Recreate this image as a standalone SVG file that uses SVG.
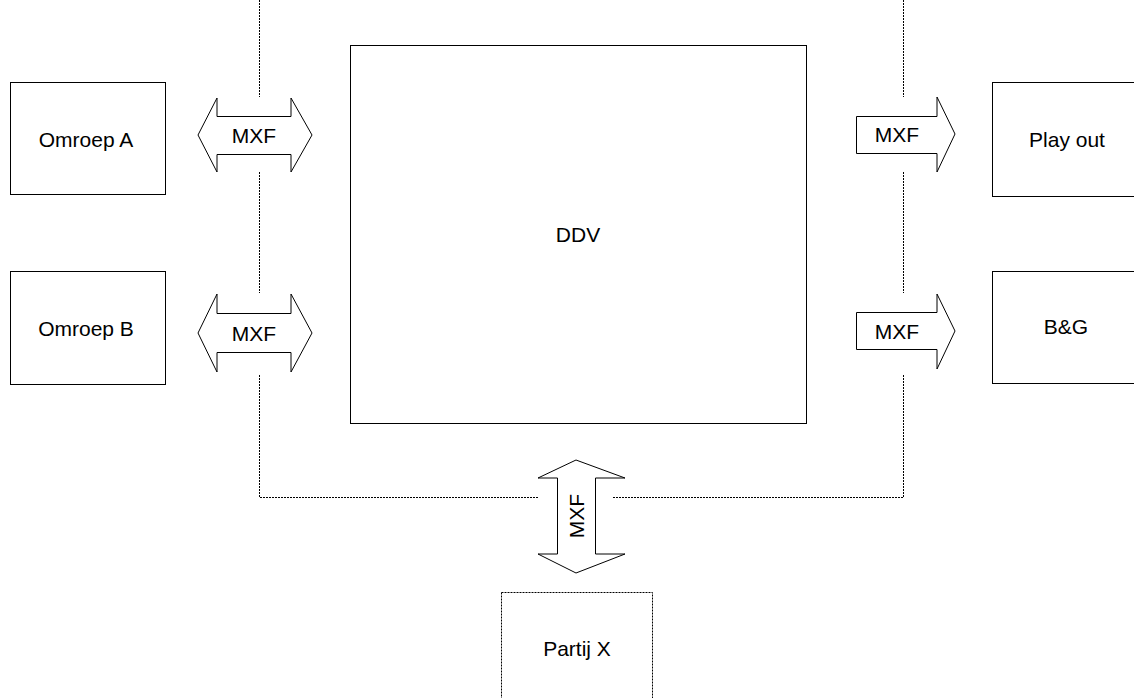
<svg xmlns="http://www.w3.org/2000/svg" width="1134" height="698" viewBox="0 0 1134 698">
  <style>
    .box { fill: #fff; stroke: #000; stroke-width: 1; }
    .dotbox { fill: #fff; stroke: #000; stroke-width: 1; stroke-dasharray: 2 1; }
    .arrow { fill: #fff; stroke: #000; stroke-width: 1; stroke-linejoin: miter; }
    .dot { fill: none; stroke: #000; stroke-width: 1; stroke-dasharray: 2 1; }
    text { font-family: "Liberation Sans", Arial, sans-serif; font-size: 21px; fill: #000; text-anchor: middle; }
  </style>
  <rect width="1134" height="698" fill="#fff"/>

  <!-- dotted link lines -->
  <g id="connectors">
    <path class="dot" d="M259.5 0 V97 M259.5 172 V293 M259.5 375 V497.5 H538"/>
    <path class="dot" d="M903.5 0 V97 M903.5 172 V293 M903.5 375 V497.5 H612"/>
  </g>

  <g id="omroep-a">
    <rect class="box" x="10.5" y="82.5" width="155" height="112"/>
    <text x="86" y="147">Omroep A</text>
  </g>
  <g id="omroep-b">
    <rect class="box" x="10.5" y="271.5" width="155" height="113"/>
    <text x="86" y="336">Omroep B</text>
  </g>
  <g id="ddv">
    <rect class="box" x="350.5" y="45.5" width="456" height="378"/>
    <text x="578" y="242">DDV</text>
  </g>
  <g id="play-out">
    <rect class="box" x="992.5" y="82.5" width="160" height="114"/>
    <text x="1067" y="147">Play out</text>
  </g>
  <g id="bg">
    <rect class="box" x="992.5" y="271.5" width="160" height="112"/>
    <text x="1066" y="334">B&amp;G</text>
  </g>
  <g id="partij-x">
    <rect class="dotbox" x="501.5" y="592.5" width="151" height="120"/>
    <text x="577" y="656">Partij X</text>
  </g>

  <!-- MXF exchange arrows -->
  <g id="mxf-a">
    <path class="arrow" d="M198 135 L217 98 V116.5 H291 V98 L312 135 L291 172 V154.5 H217 V172 Z"/>
    <text x="254" y="143">MXF</text>
  </g>
  <g id="mxf-b">
    <path class="arrow" d="M198 333 L217 294 V313.5 H291 V294 L312 333 L291 372 V352.5 H217 V372 Z"/>
    <text x="254" y="341">MXF</text>
  </g>
  <g id="mxf-play">
    <path class="arrow" d="M856.5 116.5 H937 V97 L955 134 L937 172 V153.5 H856.5 Z"/>
    <text x="897" y="142">MXF</text>
  </g>
  <g id="mxf-bg">
    <path class="arrow" d="M856.5 312.5 H937 V294 L955 331 L937 369 V349.5 H856.5 Z"/>
    <text x="897" y="339">MXF</text>
  </g>
  <g id="mxf-partij">
    <path class="arrow" d="M576 460 L625 478 H595.5 V554 H625 L576 573 L538 554 H557.5 V478 H538 Z"/>
    <text x="0" y="0" transform="translate(584 516) rotate(-90)">MXF</text>
  </g>
</svg>
